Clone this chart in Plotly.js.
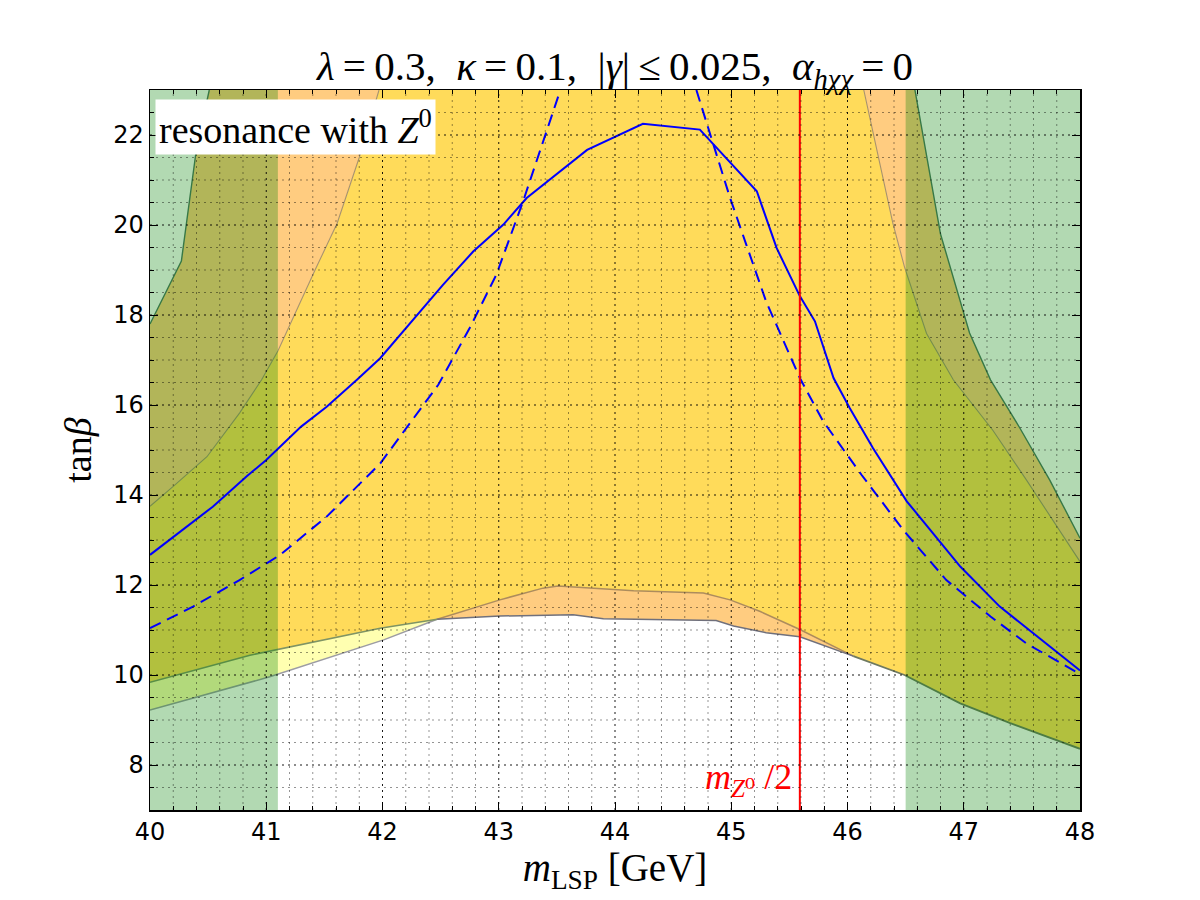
<!DOCTYPE html>
<html><head><meta charset="utf-8">
<script src="https://cdn.plot.ly/plotly-3.0.1.min.js"></script>
<style>html,body{margin:0;padding:0;background:#fff}</style>
</head><body><div id="chart" style="width:1200px;height:900px"></div>
<script>
// ---- data ----
const xRange = [40, 48];
const yRange = [7, 23];
const xTicks = [40, 41, 42, 43, 44, 45, 46, 47, 48];
const yTicks = [8, 10, 12, 14, 16, 18, 20, 22];
const mZhalf = 45.59;

const bandLeft = [40, 41.1];
const bandRight = [46.5, 48];

const gLeftX = [40, 40.27, 40.40, 40.51];
const gLeftY = [17.8, 19.2, 21.7, 23];
const gRightX = [46.58, 46.80, 47.05, 47.23, 47.48, 47.74, 48];
const gRightY = [23, 19.8, 17.6, 16.56, 15.5, 14.33, 13.04];

const orLeftX = [40, 40.2, 40.49, 40.77, 40.96, 41.1, 41.42, 41.61, 41.8, 41.97];
const orLeftY = [13.75, 14.19, 14.85, 15.82, 16.56, 17.2, 19.0, 20.04, 21.5, 23];
const orRightX = [46.14, 46.28, 46.39, 46.49, 46.68, 46.91, 47.25, 47.54, 48];
const orRightY = [23, 21.37, 20.04, 19.07, 17.59, 16.56, 15.44, 14.33, 12.52];

const c1LeftX = [40, 41.03, 42.01, 42.47];
const c1LeftY = [9.22, 9.96, 10.78, 11.24];
const c2LeftX = [40, 40.86, 41.98, 42.47];
const c2LeftY = [9.84, 10.44, 11.04, 11.24];

const c1MidX = [42.47, 43.01, 43.64, 43.9, 44.87, 45.02, 45.3, 45.59, 46.05];
const c1MidY = [11.24, 11.31, 11.34, 11.25, 11.21, 11.09, 10.94, 10.85, 10.42];
const c2MidX = [42.47, 43.01, 43.38, 43.51, 44.16, 44.76, 44.99, 45.25, 45.59, 46.05];
const c2MidY = [11.24, 11.67, 11.93, 11.98, 11.87, 11.82, 11.67, 11.41, 11.01, 10.42];

const lowRightX = [46.05, 46.49, 46.97, 47.4, 48];
const lowRightY = [10.42, 10.0, 9.37, 8.93, 8.36];

const solidX = [40, 40.2, 40.54, 40.83, 41.0, 41.3, 41.52, 41.78, 41.98, 42.52, 42.78, 43.04, 43.24, 43.76, 44.24, 44.73, 45.22, 45.39, 45.59, 45.72, 45.88, 46.02, 46.22, 46.51, 46.8, 46.97, 47.31, 47.6, 48];
const solidY = [12.67, 13.07, 13.74, 14.41, 14.78, 15.52, 15.96, 16.56, 17.04, 18.67, 19.41, 20.01, 20.6, 21.67, 22.25, 22.12, 20.75, 19.49, 18.42, 17.86, 16.6, 15.93, 15.04, 13.86, 12.93, 12.41, 11.52, 10.93, 10.1];

const dashLeftX = [40, 40.37, 40.77, 41.12, 41.52, 41.98, 42.48, 42.75, 42.98, 43.21, 43.53];
const dashLeftY = [11.04, 11.52, 12.11, 12.67, 13.52, 14.7, 16.45, 17.71, 18.9, 20.53, 23.0];
const dashRightX = [44.7, 44.85, 44.99, 45.13, 45.3, 45.59, 45.79, 46.12, 46.48, 46.85, 47.23, 47.54, 48];
const dashRightY = [23.0, 21.75, 20.6, 19.56, 18.3, 16.6, 15.64, 14.45, 13.22, 12.11, 11.3, 10.7, 10.02];

// ---- colours ----
const COL_YELLOW = '#ffdb5a';
const COL_ORANGE = '#ffcc80';
const COL_LIGHTY = '#ffffb0';
const COL_GREEN = 'rgba(0,128,0,0.3)';

const rev = a => a.slice().reverse();

function poly(x, y, color) {
  return {x: x, y: y, type: 'scatter', mode: 'lines', fill: 'toself', fillcolor: color,
          line: {width: 0, color: color}, hoverinfo: 'skip', showlegend: false};
}
function line(x, y, color, width, dash) {
  return {x: x, y: y, type: 'scatter', mode: 'lines', line: {color: color, width: width, dash: dash || 'solid'},
          hoverinfo: 'skip', showlegend: false};
}

const traces = [];
traces.push(poly(
  c2LeftX.concat(c2MidX.slice(1), lowRightX.slice(1), rev(orRightX), rev(orLeftX)),
  c2LeftY.concat(c2MidY.slice(1), lowRightY.slice(1), rev(orRightY), rev(orLeftY)),
  COL_YELLOW));
traces.push(poly(gLeftX.concat(rev(orLeftX)), gLeftY.concat(rev(orLeftY)), COL_ORANGE));
traces.push(poly(orRightX.concat(rev(gRightX)), orRightY.concat(rev(gRightY)), COL_ORANGE));
traces.push(poly(c1MidX.concat(rev(c2MidX)), c1MidY.concat(rev(c2MidY)), COL_ORANGE));
traces.push(poly(c1LeftX.concat(rev(c2LeftX)), c1LeftY.concat(rev(c2LeftY)), COL_LIGHTY));

traces.push(line(gLeftX, gLeftY, '#4f7565', 1.4));
traces.push(line(gRightX, gRightY, '#4f7565', 1.4));
traces.push(line(orLeftX, orLeftY, '#a8926c', 1.1));
traces.push(line(orRightX, orRightY, '#a8926c', 1.1));
traces.push(line(c1LeftX, c1LeftY, '#9c9ca4', 1.5));
traces.push(line(c2LeftX, c2LeftY, '#7f9464', 1.5));
traces.push(line(c2MidX, c2MidY, '#ad8c5c', 1.5));
traces.push(line(c1MidX, c1MidY, '#70707c', 1.5));
traces.push(line(lowRightX, lowRightY, '#6f7a60', 1.8));

traces.push(poly([bandLeft[0], bandLeft[1], bandLeft[1], bandLeft[0]], [yRange[0], yRange[0], yRange[1], yRange[1]], COL_GREEN));
traces.push(poly([bandRight[0], bandRight[1], bandRight[1], bandRight[0]], [yRange[0], yRange[0], yRange[1], yRange[1]], COL_GREEN));

traces.push(line(solidX, solidY, '#0000ff', 2));
traces.push(line(dashLeftX, dashLeftY, '#0000ff', 2, '12px,7px'));
traces.push(line(dashRightX, dashRightY, '#0000ff', 2, '12px,7px'));
traces.push(line([mZhalf, mZhalf], yRange, '#ff0000', 2));

// grid drawn above the filled regions (as in the reference)
const shapes = [];
function vgrid(x, color) {
  shapes.push({type: 'line', layer: 'above', xref: 'x', yref: 'paper', x0: x, x1: x, y0: 0, y1: 1,
               line: {color: color, width: 1, dash: '2px,4px'}});
}
function hgrid(y, color) {
  shapes.push({type: 'line', layer: 'above', xref: 'paper', yref: 'y', x0: 0, x1: 1, y0: y, y1: y,
               line: {color: color, width: 1, dash: '2px,4px'}});
}
for (let i = 0; i < xTicks.length - 1; i++) {
  for (let k = 1; k < 5; k++) vgrid(xTicks[i] + k * 0.2, 'rgba(0,0,0,0.42)');
  if (i > 0) vgrid(xTicks[i], 'rgba(0,0,0,0.9)');
}
for (let v = yRange[0] + 0.5; v < yRange[1]; v += 0.5) {
  if (yTicks.indexOf(v) >= 0) hgrid(v, 'rgba(0,0,0,0.9)');
  else hgrid(v, 'rgba(0,0,0,0.42)');
}

const serif = 'Liberation Serif, DejaVu Serif, serif';
const tickFont = {family: 'DejaVu Sans, sans-serif', size: 24, color: '#000'};
const layout = {
  width: 1200, height: 900,
  margin: {l: 150, r: 120, t: 90, b: 90},
  paper_bgcolor: '#ffffff', plot_bgcolor: '#ffffff',
  showlegend: false,
  title: {text: '<i>λ</i>\u2009=\u20090.3,  <i>κ</i>\u2009=\u20090.1,  |<i>γ</i>|\u2009≤\u20090.025,  <i>α</i><sub><i>hχχ</i></sub>\u2009=\u20090',
          font: {family: serif, size: 41, color: '#000'}, x: 0.5125, xanchor: 'center',
          y: 1, yref: 'paper', yanchor: 'bottom', pad: {b: 10}},
  xaxis: {range: xRange, tickvals: xTicks, ticktext: xTicks.map(String), showgrid: false, zeroline: false,
          ticks: 'inside', ticklen: 8, tickwidth: 1, tickcolor: '#000', mirror: 'ticks',
          showline: true, linecolor: '#000', linewidth: 1.5,
          minor: {dtick: 0.2, ticks: 'inside', ticklen: 4, tickcolor: '#000', showgrid: false},
          tickfont: tickFont,
          title: {text: '<i>m</i><sub>LSP</sub> [GeV]', font: {family: serif, size: 39, color: '#000'}, standoff: 0}},
  yaxis: {range: yRange, tickvals: yTicks, ticktext: yTicks.map(String), showgrid: false, zeroline: false,
          ticks: 'inside', ticklen: 8, tickwidth: 1, tickcolor: '#000', mirror: 'ticks',
          showline: true, linecolor: '#000', linewidth: 1.5,
          minor: {dtick: 0.5, ticks: 'inside', ticklen: 4, tickcolor: '#000', showgrid: false},
          tickfont: tickFont,
          title: {text: 'tan<i>β</i>', font: {family: serif, size: 38, color: '#000'}, standoff: 10}},
  shapes: shapes,
  annotations: [
    {text: 'resonance with <i>Z</i><sup>0</sup>', xref: 'paper', yref: 'paper', x: 0.0055, y: 0.988,
     xanchor: 'left', yanchor: 'top', showarrow: false, bgcolor: '#ffffff', borderpad: 3,
     font: {family: serif, size: 38, color: '#000'}},
    {text: '<i>m</i><sub><i>Z</i>⁰</sub> /2', xref: 'x', yref: 'y', x: mZhalf, y: yRange[0],
     xanchor: 'right', yanchor: 'bottom', xshift: -6, yshift: 6, showarrow: false,
     font: {family: serif, size: 36, color: '#ff0000'}}
  ]
};
Plotly.newPlot('chart', traces, layout, {displayModeBar: false, staticPlot: true});
</script></body></html>
